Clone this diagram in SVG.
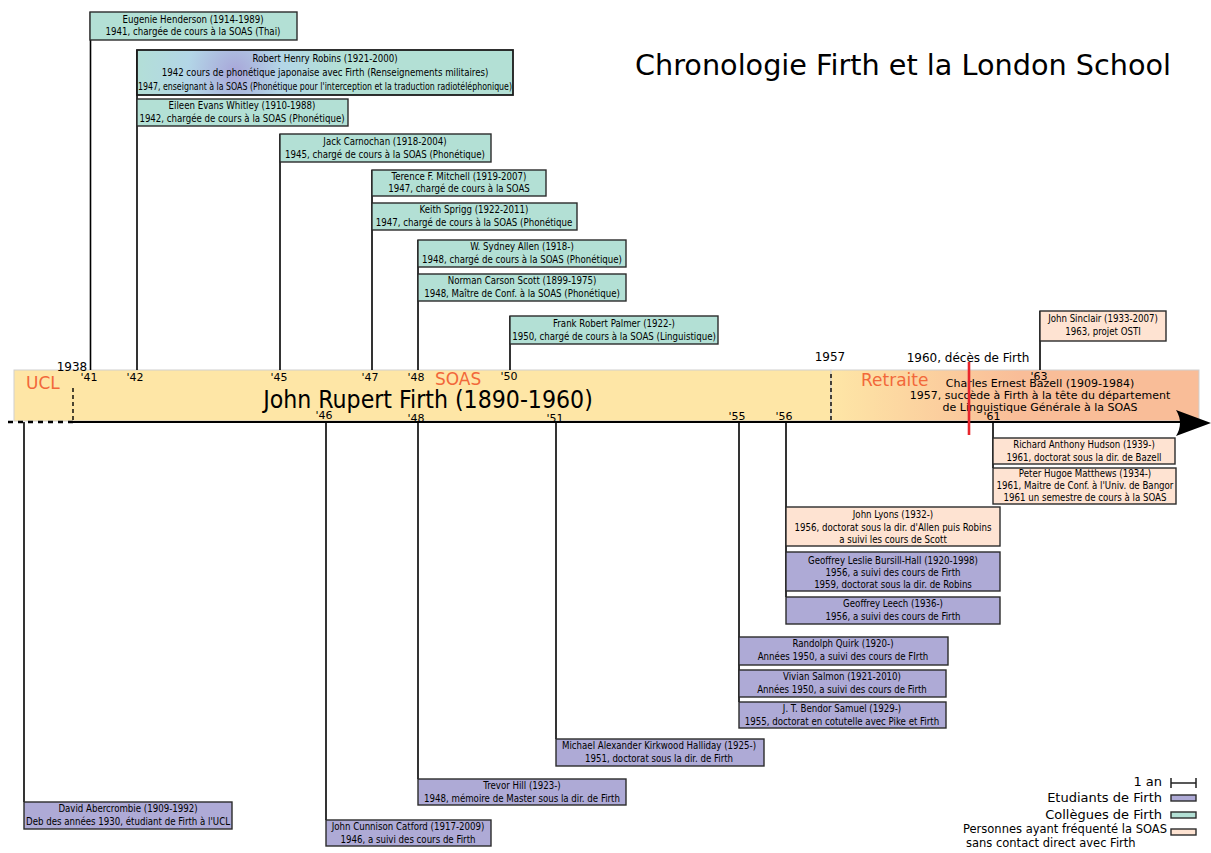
<svg xmlns="http://www.w3.org/2000/svg" width="1211" height="853" viewBox="0 0 1211 853">
  <style>
    .box { stroke: #2b2b2b; stroke-width: 1.4; }
    .col { fill: #b3e0d5; }
    .stu { fill: #aeaad6; }
    .ext { fill: #fee3d2; }
    .bt { font-family: "DejaVu Sans Condensed", "DejaVu Sans", sans-serif; font-size: 9.6px; fill: #000; text-anchor: middle; }
    .stem { stroke: #000; stroke-width: 1.6; fill: none; }
    .yr { font-family: "DejaVu Sans", sans-serif; font-size: 11px; fill: #000; text-anchor: middle; }
    .era { font-family: "DejaVu Sans", sans-serif; font-size: 17px; fill: #f2683a; }
    .lg { font-family: "DejaVu Sans", sans-serif; font-size: 13px; fill: #000; text-anchor: end; }
  </style>
  <defs>
    <linearGradient id="retraite" gradientUnits="userSpaceOnUse" x1="831" y1="0" x2="1020" y2="0">
      <stop offset="0" stop-color="#fee6a6"/>
      <stop offset="1" stop-color="#f9bd98"/>
    </linearGradient>
    <radialGradient id="robins" gradientUnits="userSpaceOnUse" cx="235" cy="72" r="105">
      <stop offset="0" stop-color="#a8a6d9"/>
      <stop offset="0.45" stop-color="#b3d6e7"/>
      <stop offset="1" stop-color="#b3e0d5"/>
    </radialGradient>
  </defs>

  <rect width="1211" height="853" fill="#fff"/>

  <!-- title -->
  <text x="903" y="75" font-family="DejaVu Sans, sans-serif" font-size="28.7" text-anchor="middle">Chronologie Firth et la London School</text>

  <!-- career band -->
  <g id="band">
    <rect x="14" y="370" width="817" height="51" fill="#fee6a6" stroke="#cfcfcf" stroke-width="1"/>
    <rect x="831" y="370" width="368" height="51" fill="url(#retraite)" stroke="#cfcfcf" stroke-width="1"/>
    <line x1="73" y1="388" x2="73" y2="420" stroke="#000" stroke-width="1.4" stroke-dasharray="4,3"/>
    <line x1="831" y1="374" x2="831" y2="420" stroke="#000" stroke-width="1.4" stroke-dasharray="4,3"/>
    <text class="era" x="26" y="389">UCL</text>
    <text class="era" x="435" y="385">SOAS</text>
    <text class="era" x="861" y="386">Retraite</text>
    <text x="428" y="408" font-family="DejaVu Sans Condensed, DejaVu Sans, sans-serif" font-size="24.6" text-anchor="middle">John Rupert Firth (1890-1960)</text>
    <text x="1040" y="387" font-family="DejaVu Sans, sans-serif" font-size="11" text-anchor="middle">Charles Ernest Bazell (1909-1984)</text>
    <text x="1040" y="399" font-family="DejaVu Sans, sans-serif" font-size="11" text-anchor="middle">1957, succède à Firth à la tête du département</text>
    <text x="1040" y="411" font-family="DejaVu Sans, sans-serif" font-size="11" text-anchor="middle">de Linguistique Générale à la SOAS</text>
  </g>

  <!-- time axis -->
  <g id="axis">
    <line x1="8" y1="422" x2="73" y2="422" stroke="#000" stroke-width="2.4" stroke-dasharray="5,5"/>
    <line x1="73" y1="422" x2="1190" y2="422" stroke="#000" stroke-width="2"/>
    <path d="M1211,423 L1176,410 Q1184,423 1176,436 Z" fill="#000"/>
    <line x1="969" y1="362" x2="969" y2="435" stroke="#e8262c" stroke-width="2.6"/>
    <text x="72" y="371" font-family="DejaVu Sans, sans-serif" font-size="12" text-anchor="middle">1938</text>
    <text x="830" y="361" font-family="DejaVu Sans, sans-serif" font-size="12" text-anchor="middle">1957</text>
    <text x="968" y="362" font-family="DejaVu Sans, sans-serif" font-size="12" text-anchor="middle">1960, décès de Firth</text>
    <text class="yr" x="89" y="381">'41</text>
    <text class="yr" x="135" y="381">'42</text>
    <text class="yr" x="279" y="381">'45</text>
    <text class="yr" x="370" y="381">'47</text>
    <text class="yr" x="416" y="381">'48</text>
    <text class="yr" x="509" y="380">'50</text>
    <text class="yr" x="1039" y="380">'63</text>
    <text class="yr" x="324" y="419">'46</text>
    <text class="yr" x="416" y="422">'48</text>
    <text class="yr" x="555" y="422">'51</text>
    <text class="yr" x="737" y="420">'55</text>
    <text class="yr" x="784" y="420">'56</text>
    <text class="yr" x="992" y="420">'61</text>
  </g>

  <!-- stems joining each person to the axis -->
  <g id="connectors">
    <line class="stem" x1="90.5" y1="12" x2="90.5" y2="370"/>
    <line class="stem" x1="137" y1="50" x2="137" y2="370"/>
    <line class="stem" x1="280" y1="134" x2="280" y2="370"/>
    <line class="stem" x1="372" y1="170" x2="372" y2="370"/>
    <line class="stem" x1="418" y1="240" x2="418" y2="370"/>
    <line class="stem" x1="510" y1="316" x2="510" y2="370"/>
    <line class="stem" x1="1040" y1="311" x2="1040" y2="370"/>
    <line class="stem" x1="24" y1="422" x2="24" y2="802"/>
    <line class="stem" x1="326" y1="422" x2="326" y2="820"/>
    <line class="stem" x1="418" y1="422" x2="418" y2="779"/>
    <line class="stem" x1="556" y1="422" x2="556" y2="739"/>
    <line class="stem" x1="739" y1="422" x2="739" y2="702"/>
    <line class="stem" x1="786" y1="422" x2="786" y2="597"/>
    <line class="stem" x1="993" y1="422" x2="993" y2="468"/>
  </g>

  <!-- colleagues -->
  <g id="henderson">
    <rect class="box col" x="90" y="12" width="207" height="28"/>
    <text class="bt" x="193" y="23">Eugenie Henderson (1914-1989)</text>
    <text class="bt" x="193" y="35">1941, chargée de cours à la SOAS (Thai)</text>
  </g>
  <g id="robins">
    <rect x="137" y="50" width="376" height="45" fill="url(#robins)" stroke="#1a1a1a" stroke-width="1.8"/>
    <text class="bt" x="325" y="62" font-size="8.9">Robert Henry Robins (1921-2000)</text>
    <text class="bt" x="325" y="76" font-size="8.9">1942 cours de phonétique japonaise avec Firth (Renseignements militaires)</text>
    <text class="bt" x="325" y="90" font-size="8.9" textLength="374" lengthAdjust="spacingAndGlyphs">1947, enseignant à la SOAS (Phonétique pour l'interception et la traduction radiotéléphonique)</text>
  </g>
  <g id="whitley">
    <rect class="box col" x="137" y="99" width="211" height="27"/>
    <text class="bt" x="242" y="109">Eileen Evans Whitley (1910-1988)</text>
    <text class="bt" x="242" y="122">1942, chargée de cours à la SOAS (Phonétique)</text>
  </g>
  <g id="carnochan">
    <rect class="box col" x="280" y="134" width="211" height="28"/>
    <text class="bt" x="385" y="145">Jack Carnochan (1918-2004)</text>
    <text class="bt" x="385" y="158">1945, chargé de cours à la SOAS (Phonétique)</text>
  </g>
  <g id="mitchell">
    <rect class="box col" x="372" y="170" width="174" height="26"/>
    <text class="bt" x="459" y="180">Terence F. Mitchell (1919-2007)</text>
    <text class="bt" x="459" y="192">1947, chargé de cours à la SOAS</text>
  </g>
  <g id="sprigg">
    <rect class="box col" x="372" y="203" width="205" height="27"/>
    <text class="bt" x="474" y="213">Keith Sprigg (1922-2011)</text>
    <text class="bt" x="474" y="226">1947, chargé de cours à la SOAS (Phonétique</text>
  </g>
  <g id="allen">
    <rect class="box col" x="418" y="240" width="208" height="27"/>
    <text class="bt" x="522" y="250">W. Sydney Allen (1918-)</text>
    <text class="bt" x="522" y="263">1948, chargé de cours à la SOAS (Phonétique)</text>
  </g>
  <g id="scott">
    <rect class="box col" x="418" y="274" width="208" height="27"/>
    <text class="bt" x="522" y="284">Norman Carson Scott (1899-1975)</text>
    <text class="bt" x="522" y="297">1948, Maître de Conf. à la SOAS (Phonétique)</text>
  </g>
  <g id="palmer">
    <rect class="box col" x="510" y="316" width="208" height="28"/>
    <text class="bt" x="614" y="327">Frank Robert Palmer (1922-)</text>
    <text class="bt" x="614" y="340">1950, chargé de cours à la SOAS (Linguistique)</text>
  </g>

  <!-- SOAS without direct contact -->
  <g id="sinclair">
    <rect class="box ext" x="1040" y="311" width="126" height="30"/>
    <text class="bt" x="1103" y="322">John Sinclair (1933-2007)</text>
    <text class="bt" x="1103" y="335">1963, projet OSTI</text>
  </g>
  <g id="hudson">
    <rect class="box ext" x="993" y="438" width="182" height="26"/>
    <text class="bt" x="1084" y="448">Richard Anthony Hudson (1939-)</text>
    <text class="bt" x="1084" y="461">1961, doctorat sous la dir. de Bazell</text>
  </g>
  <g id="matthews">
    <rect class="box ext" x="993" y="468" width="183" height="36"/>
    <text class="bt" x="1085" y="477">Peter Hugoe Matthews (1934-)</text>
    <text class="bt" x="1085" y="489">1961, Maitre de Conf. à l'Univ. de Bangor</text>
    <text class="bt" x="1085" y="501">1961 un semestre de cours à la SOAS</text>
  </g>
  <g id="lyons">
    <rect class="box ext" x="786" y="507" width="214" height="39"/>
    <text class="bt" x="893" y="518">John Lyons (1932-)</text>
    <text class="bt" x="893" y="531">1956, doctorat sous la dir. d'Allen puis Robins</text>
    <text class="bt" x="893" y="543">a suivi les cours de Scott</text>
  </g>

  <!-- students -->
  <g id="bursill-hall">
    <rect class="box stu" x="786" y="552" width="214" height="39"/>
    <text class="bt" x="893" y="564">Geoffrey Leslie Bursill-Hall (1920-1998)</text>
    <text class="bt" x="893" y="576">1956, a suivi des cours de Firth</text>
    <text class="bt" x="893" y="588">1959, doctorat sous la dir. de Robins</text>
  </g>
  <g id="leech">
    <rect class="box stu" x="786" y="597" width="214" height="27"/>
    <text class="bt" x="893" y="607">Geoffrey Leech (1936-)</text>
    <text class="bt" x="893" y="620">1956, a suivi des cours de Firth</text>
  </g>
  <g id="quirk">
    <rect class="box stu" x="739" y="637" width="209" height="28"/>
    <text class="bt" x="843" y="647">Randolph Quirk (1920-)</text>
    <text class="bt" x="843" y="660">Années 1950, a suivi des cours de FIrth</text>
  </g>
  <g id="salmon">
    <rect class="box stu" x="739" y="670" width="207" height="27"/>
    <text class="bt" x="842" y="680">Vivian Salmon (1921-2010)</text>
    <text class="bt" x="842" y="693">Années 1950, a suivi des cours de Firth</text>
  </g>
  <g id="samuel">
    <rect class="box stu" x="739" y="702" width="207" height="26"/>
    <text class="bt" x="842" y="712">J. T. Bendor Samuel (1929-)</text>
    <text class="bt" x="842" y="725">1955, doctorat en cotutelle avec Pike et Firth</text>
  </g>
  <g id="halliday">
    <rect class="box stu" x="556" y="739" width="208" height="27"/>
    <text class="bt" x="659" y="749">Michael Alexander Kirkwood Halliday (1925-)</text>
    <text class="bt" x="659" y="762">1951, doctorat sous la dir. de Firth</text>
  </g>
  <g id="hill">
    <rect class="box stu" x="418" y="779" width="208" height="26"/>
    <text class="bt" x="522" y="789">Trevor Hill (1923-)</text>
    <text class="bt" x="522" y="802">1948, mémoire de Master sous la dir. de Firth</text>
  </g>
  <g id="abercrombie">
    <rect class="box stu" x="24" y="802" width="208" height="27"/>
    <text class="bt" x="128" y="812">David Abercrombie (1909-1992)</text>
    <text class="bt" x="128" y="825">Deb des années 1930, étudiant de Firth à l'UCL</text>
  </g>
  <g id="catford">
    <rect class="box stu" x="326" y="820" width="165" height="26"/>
    <text class="bt" x="408" y="830">John Cunnison Catford (1917-2009)</text>
    <text class="bt" x="408" y="843">1946, a suivi des cours de Firth</text>
  </g>

  <!-- legend -->
  <g id="legend">
    <text class="lg" x="1162" y="786">1 an</text>
    <path d="M1171,783 H1196 M1171,778 V788 M1196,778 V788" stroke="#222" stroke-width="1.5" fill="none"/>
    <text class="lg" x="1162" y="802">Etudiants de Firth</text>
    <rect class="box stu" x="1171" y="795" width="25" height="6"/>
    <text class="lg" x="1162" y="819">Collègues de Firth</text>
    <rect class="box col" x="1171" y="812" width="25" height="6"/>
    <text x="963" y="833" font-family="DejaVu Sans, sans-serif" font-size="11.5">Personnes ayant fréquenté la SOAS</text>
    <text x="966" y="847" font-family="DejaVu Sans, sans-serif" font-size="11.5">sans contact direct avec Firth</text>
    <rect class="box ext" x="1171" y="829" width="25" height="6"/>
  </g>
</svg>
